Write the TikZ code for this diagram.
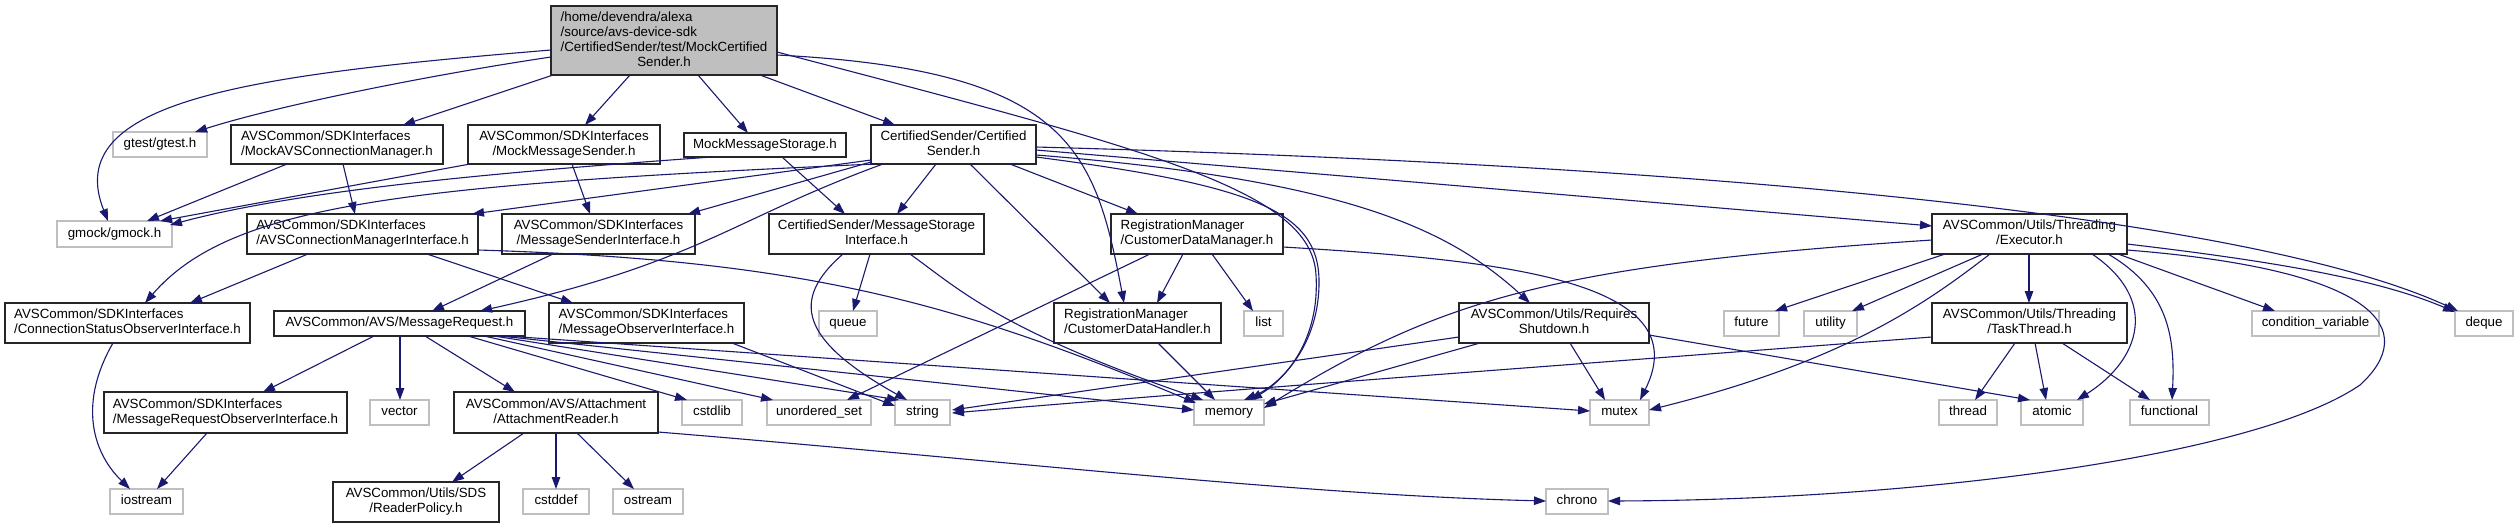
\documentclass[tikz,border=0pt]{standalone}
\usepackage{fontspec}
\setmainfont{Liberation Sans}
\usetikzlibrary{arrows.meta}
\definecolor{edgeblue}{RGB}{25,25,112}
\definecolor{sysgrey}{RGB}{191,191,191}
\newcommand\twoline[2]{\begin{tabular}{@{}l@{}}#1\\\multicolumn{1}{@{}c@{}}{#2}\end{tabular}}
\tikzset{
  docbox/.style={draw=black!85, fill=white, line width=1.2pt, inner sep=0pt,
    font=\fontsize{13.33}{15}\selectfont, execute at begin node=\strut},
  sysbox/.style={docbox, draw=sysgrey},
  mainbox/.style={docbox, fill=sysgrey},
  edge/.style={draw=edgeblue, line width=1.1pt, -{Triangle[length=12pt,width=8.5pt]}}
}
\begin{document}
\begin{tikzpicture}[x=1pt,y=-1pt]
\fill[white] (0,0) rectangle (2518,528);
\useasboundingbox (0,0) rectangle (2518,528);
% nodes
\node[mainbox, minimum width=226pt, minimum height=69pt] (main) at (664,40.5)
  {\begin{tabular}{@{}l@{}}/home/devendra/alexa\\/source/avs-device-sdk\\/CertifiedSender/test/MockCertified\\\multicolumn{1}{@{}c@{}}{Sender.h}\end{tabular}};
\node[sysbox, minimum width=94pt, minimum height=25pt] (gtest) at (160,144.5) {gtest/gtest.h};
\node[docbox, minimum width=212pt, minimum height=39pt] (mockavs) at (337,144.5) {\twoline{AVSCommon/SDKInterfaces}{/MockAVSConnectionManager.h}};
\node[docbox, minimum width=192pt, minimum height=39pt] (mocksender) at (564,144.5) {\twoline{AVSCommon/SDKInterfaces}{/MockMessageSender.h}};
\node[docbox, minimum width=162pt, minimum height=24pt] (mockstorage) at (765,145) {MockMessageStorage.h};
\node[docbox, minimum width=165pt, minimum height=39pt] (certsender) at (953.5,144.5) {\twoline{CertifiedSender/Certified}{Sender.h}};
\node[sysbox, minimum width=115pt, minimum height=26pt] (gmock) at (114.5,234) {gmock/gmock.h};
\node[docbox, minimum width=231pt, minimum height=40pt] (avsconn) at (362.5,234) {\twoline{AVSCommon/SDKInterfaces}{/AVSConnectionManagerInterface.h}};
\node[docbox, minimum width=193pt, minimum height=40pt] (msgsender) at (598.5,234) {\twoline{AVSCommon/SDKInterfaces}{/MessageSenderInterface.h}};
\node[docbox, minimum width=215pt, minimum height=40pt] (msgstorage) at (876.5,234) {\twoline{CertifiedSender/MessageStorage}{Interface.h}};
\node[docbox, minimum width=172pt, minimum height=40pt] (cdmanager) at (1197,234) {\twoline{RegistrationManager}{/CustomerDataManager.h}};
\node[docbox, minimum width=195pt, minimum height=40pt] (executor) at (2029.5,234) {\twoline{AVSCommon/Utils/Threading}{/Executor.h}};
\node[docbox, minimum width=245pt, minimum height=40pt] (connstatus) at (127.5,323) {\twoline{AVSCommon/SDKInterfaces}{/ConnectionStatusObserverInterface.h}};
\node[docbox, minimum width=251pt, minimum height=25pt] (msgreq) at (399.5,323.5) {AVSCommon/AVS/MessageRequest.h};
\node[docbox, minimum width=195pt, minimum height=40pt] (msgobs) at (646.5,323) {\twoline{AVSCommon/SDKInterfaces}{/MessageObserverInterface.h}};
\node[sysbox, minimum width=58pt, minimum height=25pt] (queue) at (848,323.5) {queue};
\node[docbox, minimum width=167pt, minimum height=40pt] (cdhandler) at (1137.5,323) {\twoline{RegistrationManager}{/CustomerDataHandler.h}};
\node[sysbox, minimum width=39pt, minimum height=25pt] (list) at (1263.5,323.5) {list};
\node[docbox, minimum width=190pt, minimum height=40pt] (reqshut) at (1554,323) {\twoline{AVSCommon/Utils/Requires}{Shutdown.h}};
\node[sysbox, minimum width=55pt, minimum height=25pt] (future) at (1751.5,323.5) {future};
\node[sysbox, minimum width=53pt, minimum height=25pt] (utility) at (1830.5,323.5) {utility};
\node[docbox, minimum width=195pt, minimum height=40pt] (taskthread) at (2029.5,323) {\twoline{AVSCommon/Utils/Threading}{/TaskThread.h}};
\node[sysbox, minimum width=127pt, minimum height=25pt] (condvar) at (2315.5,323.5) {condition\_variable};
\node[sysbox, minimum width=58pt, minimum height=25pt] (deque) at (2484,323.5) {deque};
\node[docbox, minimum width=243pt, minimum height=41pt] (msgreqobs) at (225.5,412.5) {\twoline{AVSCommon/SDKInterfaces}{/MessageRequestObserverInterface.h}};
\node[sysbox, minimum width=59pt, minimum height=25pt] (vector) at (399.5,412.5) {vector};
\node[docbox, minimum width=204pt, minimum height=41pt] (attreader) at (556,412.5) {\twoline{AVSCommon/AVS/Attachment}{/AttachmentReader.h}};
\node[sysbox, minimum width=60pt, minimum height=25pt] (cstdlib) at (712,412.5) {cstdlib};
\node[sysbox, minimum width=104pt, minimum height=25pt] (unorderedset) at (819,412.5) {unordered\_set};
\node[sysbox, minimum width=55pt, minimum height=25pt] (string) at (922.5,412.5) {string};
\node[sysbox, minimum width=70pt, minimum height=25pt] (memory) at (1229,412.5) {memory};
\node[sysbox, minimum width=59pt, minimum height=25pt] (mutex) at (1619.5,412.5) {mutex};
\node[sysbox, minimum width=58pt, minimum height=25pt] (thread) at (1968,412.5) {thread};
\node[sysbox, minimum width=62pt, minimum height=25pt] (atomic) at (2052,412.5) {atomic};
\node[sysbox, minimum width=79pt, minimum height=25pt] (functional) at (2169.5,412.5) {functional};
\node[sysbox, minimum width=73pt, minimum height=25pt] (iostream) at (146.5,501.5) {iostream};
\node[docbox, minimum width=166pt, minimum height=40pt] (readerpolicy) at (416,502) {\twoline{AVSCommon/Utils/SDS}{/ReaderPolicy.h}};
\node[sysbox, minimum width=66pt, minimum height=25pt] (cstddef) at (556,501.5) {cstddef};
\node[sysbox, minimum width=70pt, minimum height=25pt] (ostream) at (648,501.5) {ostream};
\node[sysbox, minimum width=62pt, minimum height=25pt] (chrono) at (1577,501.5) {chrono};
% edges from main
\draw[edge] ([shift={(-113,9.5)}]main.center) .. controls (250,75) and (60,100) .. ([shift={(-6.5,-13)}]gmock.center);
\draw[edge] ([shift={(-113,16.5)}]main.center) .. controls (430,75) and (280,105) .. ([shift={(35,-12.5)}]gtest.center);
\draw[edge] ([shift={(-111,34.5)}]main.center) -- ([shift={(66,-19.5)}]mockavs.center);
\draw[edge] ([shift={(-34,34.5)}]main.center) -- ([shift={(21,-19.5)}]mocksender.center);
\draw[edge] ([shift={(34,34.5)}]main.center) -- ([shift={(-17,-12)}]mockstorage.center);
\draw[edge] ([shift={(96,34.5)}]main.center) -- ([shift={(-58.5,-19.5)}]certsender.center);
\draw[edge] ([shift={(113,14.5)}]main.center) .. controls (1070,70) and (1095,150) .. ([shift={(-13.5,-20)}]cdhandler.center);
\draw[edge] ([shift={(113,11.5)}]main.center) .. controls (1150,150) and (1312,190) .. (1316,275) .. controls (1320,340) and (1285,380) .. ([shift={(21,-12.5)}]memory.center);
% mocks
\draw[edge] ([shift={(-50,19.5)}]mockavs.center) -- ([shift={(32.5,-13)}]gmock.center);
\draw[edge] ([shift={(6,19.5)}]mockavs.center) -- ([shift={(-7.5,-20)}]avsconn.center);
\draw[edge] ([shift={(-94,19.5)}]mocksender.center) -- ([shift={(45.5,-13)}]gmock.center);
\draw[edge] ([shift={(8,19.5)}]mocksender.center) -- ([shift={(-8.5,-20)}]msgsender.center);
\draw[edge] ([shift={(-53,12)}]mockstorage.center) .. controls (500,172) and (300,190) .. ([shift={(55.5,-9)}]gmock.center);
\draw[edge] ([shift={(17,12)}]mockstorage.center) -- ([shift={(-31.5,-20)}]msgstorage.center);
% certified sender
\draw[edge] ([shift={(-82.5,15.5)}]certsender.center) -- ([shift={(109.5,-20)}]avsconn.center);
\draw[edge] ([shift={(-82.5,17.5)}]certsender.center) -- ([shift={(89.5,-20)}]msgsender.center);
\draw[edge] ([shift={(-78.5,19.5)}]certsender.center) .. controls (400,185) and (230,205) .. ([shift={(17.5,-20)}]connstatus.center);
\draw[edge] ([shift={(-70.5,19.5)}]certsender.center) .. controls (730,220) and (700,262) .. ([shift={(80.5,-12.5)}]msgreq.center);
\draw[edge] ([shift={(-17.5,19.5)}]certsender.center) -- ([shift={(20.5,-20)}]msgstorage.center);
\draw[edge] ([shift={(16.5,19.5)}]certsender.center) -- ([shift={(-27.5,-20)}]cdhandler.center);
\draw[edge] ([shift={(56.5,19.5)}]certsender.center) -- ([shift={(-59,-20)}]cdmanager.center);
\draw[edge] ([shift={(82.5,5.5)}]certsender.center) -- ([shift={(-97.5,-8)}]executor.center);
\draw[edge] ([shift={(82.5,2.5)}]certsender.center) .. controls (1700,165) and (2250,215) .. ([shift={(-26,-12.5)}]deque.center);
\draw[edge] ([shift={(82.5,10.5)}]certsender.center) .. controls (1350,180) and (1450,230) .. ([shift={(-24,-20)}]reqshut.center);
\draw[edge] ([shift={(82.5,12.5)}]certsender.center) .. controls (1250,185) and (1318,210) .. (1319,280) .. controls (1320,345) and (1280,385) .. ([shift={(15,-12.5)}]memory.center);
% interfaces
\draw[edge] ([shift={(-54.5,20)}]avsconn.center) -- ([shift={(62.5,-20)}]connstatus.center);
\draw[edge] ([shift={(64.5,20)}]avsconn.center) -- ([shift={(-73.5,-20)}]msgobs.center);
\draw[edge] ([shift={(115.5,16)}]avsconn.center) .. controls (800,260) and (950,300) .. ([shift={(-33,-9.5)}]memory.center);
\draw[edge] ([shift={(-45.5,20)}]msgsender.center) -- ([shift={(32.5,-12.5)}]msgreq.center);
\draw[edge] ([shift={(-14.5,20)}]connstatus.center) .. controls (80,400) and (90,450) .. ([shift={(-16.5,-12.5)}]iostream.center);
\draw[edge] ([shift={(-18.5,20.5)}]msgreqobs.center) -- ([shift={(10.5,-12.5)}]iostream.center);
% message request
\draw[edge] ([shift={(-25.5,12.5)}]msgreq.center) -- ([shift={(37.5,-20.5)}]msgreqobs.center);
\draw[edge] ([shift={(0.5,12.5)}]msgreq.center) -- ([shift={(0.5,-12.5)}]vector.center);
\draw[edge] ([shift={(25.5,12.5)}]msgreq.center) -- ([shift={(-41,-20.5)}]attreader.center);
\draw[edge] ([shift={(68.5,12.5)}]msgreq.center) -- ([shift={(-25,-12.5)}]cstdlib.center);
\draw[edge] ([shift={(84.5,12.5)}]msgreq.center) -- ([shift={(-46,-12.5)}]unorderedset.center);
\draw[edge] ([shift={(94.5,12.5)}]msgreq.center) -- ([shift={(-23.5,-12.5)}]string.center);
\draw[edge] ([shift={(100.5,12.5)}]msgreq.center) -- ([shift={(-35,-2.5)}]memory.center);
\draw[edge] ([shift={(106.5,12.5)}]msgreq.center) -- ([shift={(-29.5,-1.5)}]mutex.center);
\draw[edge] ([shift={(85.5,20)}]msgobs.center) -- ([shift={(-27.5,-6.5)}]string.center);
% message storage
\draw[edge] ([shift={(-6.5,20)}]msgstorage.center) -- ([shift={(5,-12.5)}]queue.center);
\draw[edge] ([shift={(-33.5,20)}]msgstorage.center) .. controls (790,300) and (800,340) .. ([shift={(-15.5,-12.5)}]string.center);
\draw[edge] ([shift={(33.5,20)}]msgstorage.center) .. controls (960,290) and (1000,330) .. ([shift={(-26,-12.5)}]memory.center);
% registration manager
\draw[edge] ([shift={(-14,20)}]cdmanager.center) -- ([shift={(19.5,-20)}]cdhandler.center);
\draw[edge] ([shift={(15,20)}]cdmanager.center) -- ([shift={(-10.5,-12.5)}]list.center);
\draw[edge] ([shift={(-47,20)}]cdmanager.center) -- ([shift={(28,-12.5)}]unorderedset.center);
\draw[edge] ([shift={(86,13)}]cdmanager.center) .. controls (1500,260) and (1700,280) .. ([shift={(20.5,-12.5)}]mutex.center);
\draw[edge] ([shift={(20.5,20)}]cdhandler.center) -- ([shift={(-14,-12.5)}]memory.center);
% requires shutdown
\draw[edge] ([shift={(-95,14)}]reqshut.center) -- ([shift={(29.5,-2.5)}]string.center);
\draw[edge] ([shift={(-74,20)}]reqshut.center) -- ([shift={(35,-8.5)}]memory.center);
\draw[edge] ([shift={(16,20)}]reqshut.center) -- ([shift={(-14.5,-12.5)}]mutex.center);
\draw[edge] ([shift={(95,12)}]reqshut.center) -- ([shift={(-22,-12.5)}]atomic.center);
% executor
\draw[edge] ([shift={(-84.5,20)}]executor.center) -- ([shift={(23.5,-12.5)}]future.center);
\draw[edge] ([shift={(-46.5,20)}]executor.center) -- ([shift={(21.5,-12.5)}]utility.center);
\draw[edge] ([shift={(-0.5,20)}]executor.center) -- ([shift={(-0.5,-20)}]taskthread.center);
\draw[edge] ([shift={(-97.5,6)}]executor.center) .. controls (1550,265) and (1440,300) .. ([shift={(35,-4.5)}]memory.center);
\draw[edge] ([shift={(-39.5,20)}]executor.center) .. controls (1930,300) and (1850,360) .. ([shift={(29.5,-2.5)}]mutex.center);
\draw[edge] ([shift={(62.5,20)}]executor.center) .. controls (2160,300) and (2140,360) .. ([shift={(25,-12.5)}]atomic.center);
\draw[edge] ([shift={(78.5,20)}]executor.center) .. controls (2170,290) and (2175,340) .. ([shift={(2.5,-12.5)}]functional.center);
\draw[edge] ([shift={(88.5,20)}]executor.center) -- ([shift={(-40.5,-12.5)}]condvar.center);
\draw[edge] ([shift={(97.5,10)}]executor.center) .. controls (2280,262) and (2380,280) .. ([shift={(-29,-11.5)}]deque.center);
\draw[edge] ([shift={(97.5,16)}]executor.center) .. controls (2380,270) and (2420,330) .. (2360,385) .. controls (2250,460) and (1900,500) .. ([shift={(31,-0.5)}]chrono.center);
% task thread
\draw[edge] ([shift={(-14.5,20)}]taskthread.center) -- ([shift={(7,-12.5)}]thread.center);
\draw[edge] ([shift={(5.5,20)}]taskthread.center) -- ([shift={(-6,-12.5)}]atomic.center);
\draw[edge] ([shift={(32.5,20)}]taskthread.center) -- ([shift={(-19.5,-12.5)}]functional.center);
\draw[edge] ([shift={(-97.5,14)}]taskthread.center) .. controls (1500,370) and (1200,392) .. ([shift={(29.5,0.5)}]string.center);
% attachment reader
\draw[edge] ([shift={(-32,20.5)}]attreader.center) -- ([shift={(36,-20)}]readerpolicy.center);
\draw[edge] ([shift={(0,20.5)}]attreader.center) -- ([shift={(0,-12.5)}]cstddef.center);
\draw[edge] ([shift={(21,20.5)}]attreader.center) -- ([shift={(-14,-12.5)}]ostream.center);
\draw[edge] ([shift={(102,19.5)}]attreader.center) .. controls (1000,460) and (1300,495) .. ([shift={(-31,-0.5)}]chrono.center);
\end{tikzpicture}
\end{document}
